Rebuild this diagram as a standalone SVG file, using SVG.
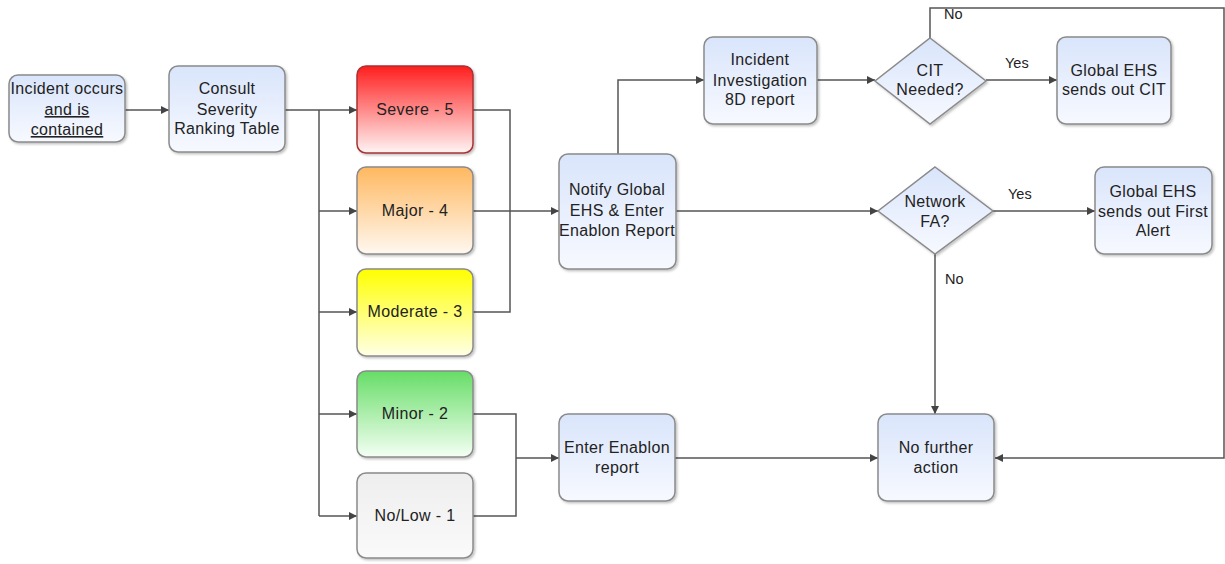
<svg xmlns="http://www.w3.org/2000/svg" width="1225" height="564" viewBox="0 0 1225 564">
<style>
.t{font-family:"Liberation Sans",Arial,sans-serif;font-size:16px;letter-spacing:0.35px;fill:#222;text-anchor:middle}
.l{font-family:"Liberation Sans",Arial,sans-serif;font-size:14.5px;fill:#222}
.b{stroke:#8a8a8a;stroke-width:1.5;filter:url(#sh)}
.c{fill:none;stroke:#555;stroke-width:1.5}
</style>
<defs>
<filter id="sh" x="-10%" y="-10%" width="130%" height="130%"><feDropShadow dx="1.5" dy="1.5" stdDeviation="1.2" flood-color="#000" flood-opacity="0.25"/></filter>
<linearGradient id="gb" x1="0" y1="0" x2="0" y2="1"><stop offset="0" stop-color="#d9e5fb"/><stop offset="1" stop-color="#f7f9ff"/></linearGradient>
<linearGradient id="gr" x1="0" y1="0" x2="0" y2="1"><stop offset="0" stop-color="#ff1e1e"/><stop offset="1" stop-color="#fff4f4"/></linearGradient>
<linearGradient id="go" x1="0" y1="0" x2="0" y2="1"><stop offset="0" stop-color="#ffb860"/><stop offset="1" stop-color="#fff8f0"/></linearGradient>
<linearGradient id="gy" x1="0" y1="0" x2="0" y2="1"><stop offset="0" stop-color="#ffff00"/><stop offset="1" stop-color="#ffffe6"/></linearGradient>
<linearGradient id="gg" x1="0" y1="0" x2="0" y2="1"><stop offset="0" stop-color="#66dd66"/><stop offset="1" stop-color="#f4fff4"/></linearGradient>
<linearGradient id="gw" x1="0" y1="0" x2="0" y2="1"><stop offset="0" stop-color="#eeeeee"/><stop offset="1" stop-color="#fafafa"/></linearGradient>
<marker id="ar" viewBox="0 0 10 10" refX="10" refY="5" markerWidth="8" markerHeight="8" markerUnits="userSpaceOnUse" orient="auto"><path d="M0,0 L10,5 L0,10 z" fill="#444"/></marker>
</defs>
<rect width="1225" height="564" fill="#fff"/>
<g id="connectors">
<path class="c" d="M125,110 H169" marker-end="url(#ar)"/>
<path class="c" d="M285,110 H357" marker-end="url(#ar)"/>
<path class="c" d="M319,110 V516"/>
<path class="c" d="M319,211 H357" marker-end="url(#ar)"/>
<path class="c" d="M319,312 H357" marker-end="url(#ar)"/>
<path class="c" d="M319,414 H357" marker-end="url(#ar)"/>
<path class="c" d="M319,516 H357" marker-end="url(#ar)"/>
<path class="c" d="M473,110 H510 V312 H473"/>
<path class="c" d="M473,211 H559" marker-end="url(#ar)"/>
<path class="c" d="M473,414 H516 V516 H473"/>
<path class="c" d="M516,458 H559" marker-end="url(#ar)"/>
<path class="c" d="M618,154 V80 H704" marker-end="url(#ar)"/>
<path class="c" d="M817,80 H875" marker-end="url(#ar)"/>
<path class="c" d="M986,80 H1057" marker-end="url(#ar)"/>
<path class="c" d="M930,38 V8 H1224 V458 H995" marker-end="url(#ar)"/>
<path class="c" d="M676,211 H878" marker-end="url(#ar)"/>
<path class="c" d="M993,211 H1095" marker-end="url(#ar)"/>
<path class="c" d="M935,254 V414" marker-end="url(#ar)"/>
<path class="c" d="M675,458 H878" marker-end="url(#ar)"/>
<text class="l" x="944" y="19">No</text>
<text class="l" x="1005" y="68">Yes</text>
<text class="l" x="1008" y="199">Yes</text>
<text class="l" x="945" y="284">No</text>
</g>
<g id="n1"><rect class="b" x="9" y="75" width="116" height="67" rx="9" fill="url(#gb)"/>
<text class="t" x="67" y="94">Incident occurs</text>
<text class="t" x="67" y="115" text-decoration="underline">and is</text>
<text class="t" x="67" y="135" text-decoration="underline">contained</text></g>
<g id="n2"><rect class="b" x="169" y="66" width="116" height="86" rx="9" fill="url(#gb)"/>
<text class="t" x="227" y="94">Consult</text><text class="t" x="227" y="115">Severity</text><text class="t" x="227" y="134">Ranking Table</text></g>
<g id="severe"><rect class="b" x="357" y="66" width="116" height="87" rx="9" fill="url(#gr)" style="stroke:#a83232"/>
<text class="t" x="415" y="115">Severe - 5</text></g>
<g id="major"><rect class="b" x="357" y="167" width="116" height="87" rx="9" fill="url(#go)"/>
<text class="t" x="415" y="216">Major - 4</text></g>
<g id="moderate"><rect class="b" x="357" y="269" width="116" height="87" rx="9" fill="url(#gy)"/>
<text class="t" x="415" y="317">Moderate - 3</text></g>
<g id="minor"><rect class="b" x="357" y="371" width="116" height="86" rx="9" fill="url(#gg)"/>
<text class="t" x="415" y="419">Minor - 2</text></g>
<g id="nolow"><rect class="b" x="357" y="473" width="116" height="85" rx="9" fill="url(#gw)"/>
<text class="t" x="415" y="521">No/Low - 1</text></g>
<g id="notify"><rect class="b" x="559" y="154" width="117" height="115" rx="9" fill="url(#gb)"/>
<text class="t" x="617" y="195">Notify Global</text><text class="t" x="617" y="216">EHS &amp; Enter</text><text class="t" x="617" y="236">Enablon Report</text></g>
<g id="enter"><rect class="b" x="559" y="414" width="116" height="87" rx="9" fill="url(#gb)"/>
<text class="t" x="617" y="453">Enter Enablon</text><text class="t" x="617" y="473">report</text></g>
<g id="invest"><rect class="b" x="704" y="37" width="113" height="87" rx="9" fill="url(#gb)"/>
<text class="t" x="760" y="65">Incident</text><text class="t" x="760" y="86">Investigation</text><text class="t" x="760" y="105">8D report</text></g>
<g id="cit"><path class="b" d="M930,38 L986,81 L930,124 L875,81 z" fill="url(#gb)"/>
<text class="t" x="930" y="76">CIT</text><text class="t" x="930" y="95">Needed?</text></g>
<g id="citout"><rect class="b" x="1057" y="37" width="114" height="87" rx="9" fill="url(#gb)"/>
<text class="t" x="1114" y="76">Global EHS</text><text class="t" x="1114" y="95">sends out CIT</text></g>
<g id="netfa"><path class="b" d="M935,167 L993,211 L935,254 L878,211 z" fill="url(#gb)"/>
<text class="t" x="935" y="207">Network</text><text class="t" x="935" y="227">FA?</text></g>
<g id="alert"><rect class="b" x="1095" y="167" width="117" height="87" rx="9" fill="url(#gb)"/>
<text class="t" x="1153" y="197">Global EHS</text><text class="t" x="1153" y="217">sends out First</text><text class="t" x="1153" y="236">Alert</text></g>
<g id="nofurther"><rect class="b" x="878" y="414" width="116" height="87" rx="9" fill="url(#gb)"/>
<text class="t" x="936" y="453">No further</text><text class="t" x="936" y="473">action</text></g>
</svg>
